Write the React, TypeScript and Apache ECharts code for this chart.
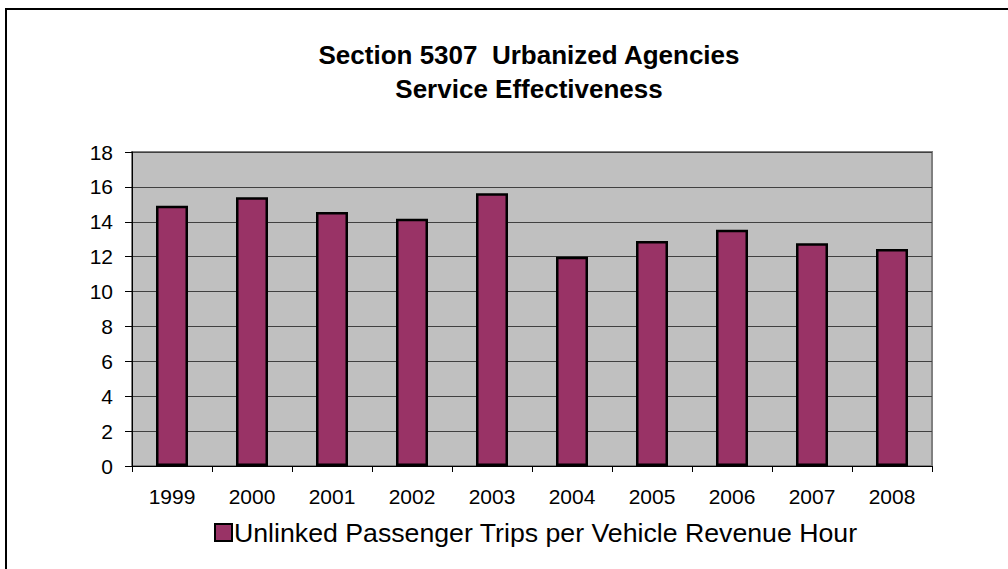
import React, { useEffect, useRef } from "react";
import * as echarts from "echarts";

const years = ["1999", "2000", "2001", "2002", "2003", "2004", "2005", "2006", "2007", "2008"];
const tripsPerHour = [14.92, 15.4, 14.56, 14.18, 15.64, 12.0, 12.9, 13.55, 12.77, 12.44];
const seriesName = "Unlinked Passenger Trips per Vehicle Revenue Hour";
const titleLines = ["Section 5307  Urbanized Agencies", "Service Effectiveness"];

export default function App() {
  const ref = useRef<HTMLDivElement>(null);
  useEffect(() => {
    if (!ref.current) return;
    const chart = echarts.init(ref.current, null, { renderer: "svg" });
    const font = "Liberation Sans, Arial, sans-serif";
    chart.setOption({
      animation: false,
      backgroundColor: "#ffffff",
      title: {
        text: titleLines.join("\n"),
        left: 524,
        textAlign: "center",
        top: 33,
        textStyle: { fontFamily: font, fontSize: 26, fontWeight: "bold", color: "#000", lineHeight: 34 },
      },
      graphic: [
        {
          type: "polyline",
          shape: { points: [[6, 569], [6, 9], [1008, 9]] },
          style: { stroke: "#000", lineWidth: 2, fill: "none" },
        },
      ],
      legend: {
        left: 209,
        top: 514,
        itemWidth: 17,
        itemHeight: 17,
        itemGap: 6,
        icon: "rect",
        textStyle: { fontFamily: font, fontSize: 26.7, color: "#000", padding: [0, 0, 0, -3] },
        data: [{ name: seriesName, itemStyle: { color: "#993366", borderColor: "#000", borderWidth: 2 } }],
      },
      grid: {
        left: 132,
        right: 76,
        top: 152,
        bottom: 103,
        show: true,
        backgroundColor: "#C0C0C0",
        borderColor: "#808080",
        borderWidth: 2,
      },
      xAxis: {
        type: "category",
        data: years,
        axisLine: { lineStyle: { color: "#000", width: 1 } },
        axisTick: { show: true, length: 6, lineStyle: { color: "#000" } },
        axisLabel: { fontFamily: font, fontSize: 21, color: "#000", margin: 20 },
      },
      yAxis: {
        type: "value",
        min: 0,
        max: 18,
        interval: 2,
        axisLine: { show: true, lineStyle: { color: "#000", width: 1 } },
        axisTick: { show: true, length: 7, lineStyle: { color: "#000" } },
        axisLabel: { fontFamily: font, fontSize: 21, color: "#000", margin: 19 },
        splitLine: { lineStyle: { color: "#404040", width: 1 } },
      },
      series: [
        {
          name: seriesName,
          type: "bar",
          data: tripsPerHour,
          barWidth: "40%",
          itemStyle: { color: "#993366", borderColor: "#000", borderWidth: 2.5 },
        },
      ],
    });
    return () => chart.dispose();
  }, []);
  return (
    <div
      ref={ref}
      style={{ position: "fixed", left: 0, top: 0, width: 1008, height: 569 }}
    />
  );
}
